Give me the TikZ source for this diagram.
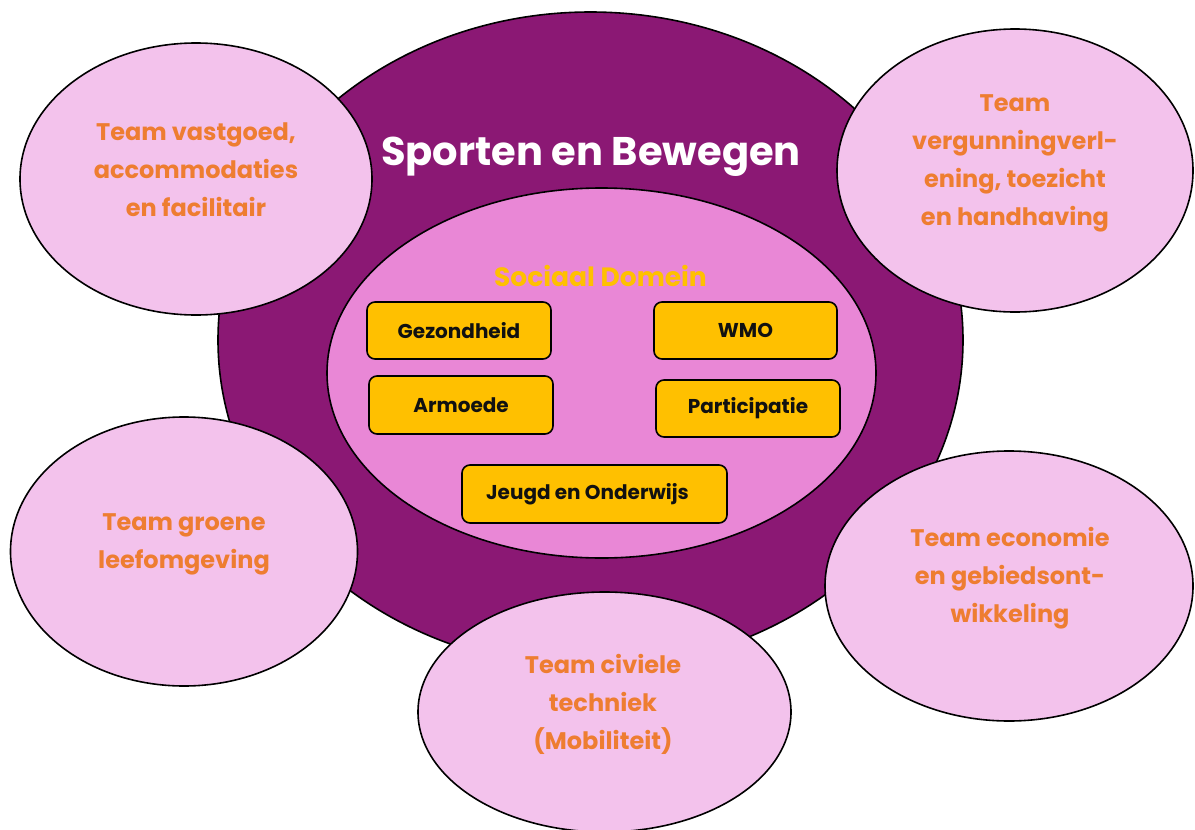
\documentclass[tikz,border=0pt]{standalone}
\usepackage{fontspec}
\setmainfont{Poppins}
\usetikzlibrary{shapes.geometric}
\definecolor{purp}{HTML}{8B1874}
\definecolor{innerpink}{HTML}{E987D6}
\definecolor{lightpink}{HTML}{F3C2EC}
\definecolor{orangetxt}{HTML}{EE7D31}
\definecolor{gold}{HTML}{FFC000}
\definecolor{boxtxt}{HTML}{111111}
\begin{document}
\begin{tikzpicture}[x=1pt,y=-1pt,
  ell/.style={ellipse, draw=black, line width=1.6pt, inner sep=0pt},
  outerell/.style={ell, fill=lightpink},
  teamtext/.style={align=center, text=orangetxt, font=\fontsize{24}{38}\selectfont\bfseries},
  topicbox/.style={draw=black, line width=1.6pt, fill=gold, rounded corners=8pt, inner sep=0pt,
    text=boxtxt, font=\fontsize{20}{22}\selectfont\bfseries}
]
\useasboundingbox (0,0) rectangle (1195,830);
\fill[white] (0,0) rectangle (1195,830);

% big purple ellipse
\node[ell, fill=purp, minimum width=745, minimum height=656] (sport) at (590.5,340) {};
\node[text=white, font=\fontsize{40}{44}\selectfont\bfseries] (sporttxt) at (591,157) {Sporten en Bewegen};

% inner ellipse
\node[ell, fill=innerpink, minimum width=549, minimum height=370] (sociaal) at (601.5,373) {};
\node[text=gold, font=\fontsize{26.5}{30}\selectfont\bfseries] (sociaaltxt) at (600.5,276) {Sociaal Domein};

% topic boxes
\node[topicbox, minimum width=184, minimum height=57] (gez) at (459,330.5) {Gezondheid};
\node[topicbox, minimum width=183, minimum height=57] (wmo) at (745.5,330.5) {WMO};
\node[topicbox, minimum width=184, minimum height=58] (arm) at (461,405) {Armoede};
\node[topicbox, minimum width=184, minimum height=57] (part) at (748,408.5) {Participatie};
\node[topicbox, minimum width=265, minimum height=58] (jeugd) at (594.5,494) {Jeugd en Onderwijs\hspace*{14pt}};

% outer team ellipses
\node[outerell, minimum width=352, minimum height=272] (tl) at (196,179) {};
\node[teamtext] (tltxt) at (196,170) {Team vastgoed,\\accommodaties\\en facilitair};

\node[outerell, minimum width=356, minimum height=283] (tr) at (1015,170.5) {};
\node[teamtext] (trtxt) at (1015,163.5) {Team\\vergunningverl-\\ening, toezicht\\en handhaving};

\node[outerell, minimum width=347, minimum height=269] (lf) at (184,551.5) {};
\node[teamtext] (lftxt) at (184,544.5) {Team groene\\leefomgeving};

\node[outerell, minimum width=368, minimum height=270] (rt) at (1009,586) {};
\node[teamtext] (rttxt) at (1010,578) {Team economie\\en gebiedsont-\\wikkeling};

\node[outerell, minimum width=373, minimum height=240] (bt) at (604.5,712) {};
\node[teamtext] (bttxt) at (603,704) {Team civiele\\techniek\\(Mobiliteit)};
\end{tikzpicture}
\end{document}
